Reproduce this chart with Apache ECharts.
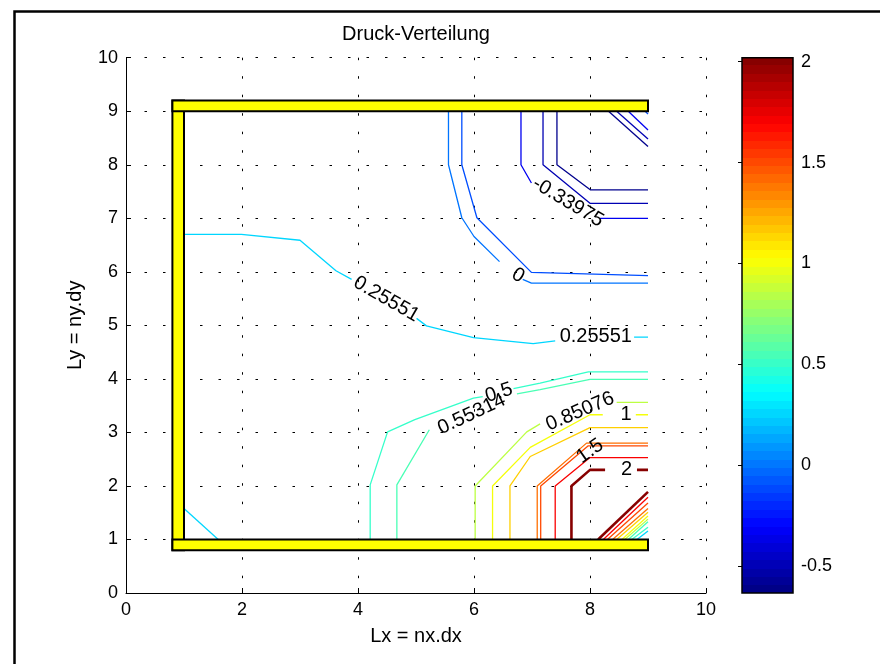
<!DOCTYPE html>
<html><head><meta charset="utf-8">
<script src="https://cdn.jsdelivr.net/npm/echarts@6/dist/echarts.min.js"></script>
<style>html,body{margin:0;padding:0;background:#fff}#c{width:880px;height:664px}</style>
</head><body><div id="c"></div>
<script>
// ---------- data ----------
const titleText = 'Druck-Verteilung';
const xName = 'Lx = nx.dx';
const yName = 'Ly = ny.dy';
const xTickValues = [0, 2, 4, 6, 8, 10];
const yTickValues = [0, 1, 2, 3, 4, 5, 6, 7, 8, 9, 10];
const colorbarTicks = [-0.5, 0, 0.5, 1, 1.5, 2];
const colorRange = [-0.634, 2.02];
// walls: [x1, y1, x2, y2]
const walls = [[0.8, 0.8, 1.0, 9.2], [0.8, 9.0, 9.0, 9.2], [0.8, 0.8, 9.0, 1.0]];
// contour levels for each path (same order as contourPaths)
const contourLevels = [
  -0.6, -0.6, -0.5, -0.5, -0.33975, -0.33975, -0.33975, -0.1, -0.1, 0, 0,
  0.25551, 0.25551, 0.25551, 0.25551, 0.25551,
  0.5, 0.5, 0.5, 0.55314, 0.55314, 0.55314,
  0.85076, 0.85076, 0.85076, 1, 1, 1, 1.15, 1.15,
  1.4, 1.4, 1.5, 1.5, 1.7, 1.7, 2, 2, 2
];
const contourPaths = [
  [[7.43, 9.0], [7.43, 8.0], [8.01, 7.53], [9.0, 7.53]],
  [[8.32, 9.0], [9.0, 8.34]],
  [[7.19, 9.0], [7.19, 8.0], [8.0, 7.28], [9.0, 7.28]],
  [[8.46, 9.0], [9.0, 8.48]],
  [[6.81, 9.0], [6.81, 8.0], [6.99, 7.66]],
  [[8.17, 7.0], [9.0, 7.0]],
  [[8.66, 9.0], [9.0, 8.65]],
  [[5.79, 9.0], [5.79, 8.0], [6.05, 7.01], [6.99, 5.99], [9.0, 5.93]],
  [[8.95, 9.0], [9.0, 8.95]],
  [[5.56, 9.0], [5.56, 8.0], [5.79, 7.01], [6.0, 6.66], [6.44, 6.19]],
  [[6.84, 5.86], [6.99, 5.79], [9.0, 5.79]],
  [[1.0, 6.70], [1.99, 6.70], [3.0, 6.59], [3.62, 6.02], [3.89, 5.86]],
  [[5.01, 5.13], [5.18, 4.99], [5.99, 4.77], [7.02, 4.66], [7.40, 4.71]],
  [[8.76, 4.78], [9.0, 4.78]],
  [[1.0, 1.58], [1.59, 1.0]],
  [[8.81, 1.0], [9.0, 1.16]],
  [[4.21, 1.0], [4.21, 2.02], [4.51, 3.01], [4.98, 3.24], [5.99, 3.64], [6.15, 3.67]],
  [[6.68, 3.82], [7.14, 3.92], [7.97, 4.13], [9.0, 4.13]],
  [[8.72, 1.0], [9.0, 1.23]],
  [[4.67, 1.0], [4.67, 2.02], [5.23, 3.05]],
  [[6.74, 3.72], [7.14, 3.80], [8.0, 3.99], [9.0, 3.99]],
  [[8.66, 1.0], [9.0, 1.33]],
  [[6.02, 1.0], [6.02, 2.0], [6.91, 3.01], [7.14, 3.16]],
  [[8.46, 3.56], [9.0, 3.56]],
  [[8.60, 1.0], [9.0, 1.38]],
  [[6.32, 1.0], [6.32, 2.0], [6.97, 2.72], [8.0, 3.33], [8.22, 3.33]],
  [[8.79, 3.33], [9.0, 3.33]],
  [[8.55, 1.0], [9.0, 1.44]],
  [[6.62, 1.0], [6.62, 2.0], [6.97, 2.55], [8.0, 3.09], [9.0, 3.09]],
  [[8.46, 1.0], [9.0, 1.51]],
  [[7.09, 1.0], [7.09, 2.0], [7.94, 2.80], [9.0, 2.80]],
  [[8.39, 1.0], [9.0, 1.58]],
  [[7.15, 1.0], [7.15, 2.0], [7.97, 2.75], [9.0, 2.75]],
  [[8.30, 1.0], [9.0, 1.68]],
  [[7.40, 1.0], [7.40, 2.0], [8.0, 2.53], [9.0, 2.53]],
  [[8.23, 1.0], [9.0, 1.79]],
  [[7.68, 1.0], [7.68, 2.0], [8.0, 2.30], [8.26, 2.30]],
  [[8.81, 2.30], [9.0, 2.30]],
  [[8.14, 1.0], [9.0, 1.89]]
];
// contour labels: [text, x, y]
const contourLabels = [
  ['-0.33975', 7.62, 7.30],
  ['0', 6.76, 5.93],
  ['0.25551', 4.49, 5.49],
  ['0.25551', 8.10, 4.80],
  ['0.5', 6.43, 3.74],
  ['0.55314', 5.96, 3.34],
  ['0.85076', 7.83, 3.39],
  ['1', 8.62, 3.33],
  ['1.5', 8.0, 2.65],
  ['2', 8.63, 2.30]
];
const contourLabelAngles = [-31, -30, -30, 0, 18, 25, 23, 0, 35, 0];

// ---------- style helpers ----------
const FONT = 'Liberation Sans';
const FS = 18;
const FS_BIG = 20;
function clamp(v) { return Math.max(0, Math.min(1, v)); }
function jetFrac(f) {
  const r = clamp(Math.min(4 * f - 1.5, -4 * f + 4.5));
  const g = clamp(Math.min(4 * f - 0.5, -4 * f + 3.5));
  const b = clamp(Math.min(4 * f + 0.5, -4 * f + 2.5));
  return 'rgb(' + Math.round(r * 255) + ',' + Math.round(g * 255) + ',' + Math.round(b * 255) + ')';
}
function jet(v) { return jetFrac(clamp((v - colorRange[0]) / (colorRange[1] - colorRange[0]))); }
const barStops = [];
for (let i = 0; i < 64; i++) {
  const c = jetFrac((i + 0.5) / 64);
  barStops.push({ offset: i / 64, color: c });
  barStops.push({ offset: (i + 1) / 64, color: c });
}

const series = [];
contourPaths.forEach(function (p, i) {
  const lv = contourLevels[i];
  series.push({
    type: 'line', xAxisIndex: 0, yAxisIndex: 0, data: p, symbol: 'none', silent: true,
    lineStyle: { color: jet(lv), width: lv === 2 ? 2.6 : 1.3 }, z: 2
  });
});
series.push({
  type: 'scatter', xAxisIndex: 0, yAxisIndex: 0, symbolSize: 0, silent: true, z: 4,
  data: contourLabels.map(function (l, i) {
    return { value: [l[1], l[2]], name: l[0], label: { rotate: contourLabelAngles[i] } };
  }),
  label: { show: true, position: 'inside', formatter: '{b}', color: '#000', opacity: 1,
    fontFamily: FONT, fontSize: 20, textBorderWidth: 0 }
});
series.push({
  type: 'custom', xAxisIndex: 0, yAxisIndex: 0, z: 6, silent: true,
  data: walls,
  encode: { x: [0, 2], y: [1, 3] },
  renderItem: function (params, api) {
    const p1 = api.coord([api.value(0), api.value(3)]);
    const p2 = api.coord([api.value(2), api.value(1)]);
    return { type: 'rect', shape: { x: p1[0], y: p1[1], width: p2[0] - p1[0], height: p2[1] - p1[1] },
      style: { fill: '#ffff00', stroke: '#000', lineWidth: 2 } };
  }
});
series.push({
  type: 'custom', xAxisIndex: 1, yAxisIndex: 1, z: 2, silent: true,
  data: [[0, colorRange[0], 1, colorRange[1]]],
  encode: { x: [0, 2], y: [1, 3] },
  renderItem: function (params, api) {
    const p1 = api.coord([api.value(0), api.value(3)]);
    const p2 = api.coord([api.value(2), api.value(1)]);
    return { type: 'rect', shape: { x: p1[0], y: p1[1], width: p2[0] - p1[0], height: p2[1] - p1[1] },
      style: { fill: new echarts.graphic.LinearGradient(0, 1, 0, 0, barStops), stroke: '#000', lineWidth: 1.5 } };
  }
});

const gridDash = { color: '#000', type: [2.5, 16], width: 1 };
const option = {
  animation: false,
  backgroundColor: '#fff',
  textStyle: { fontFamily: FONT },
  grid: [
    { left: 126, top: 57.7, right: 174, bottom: 71 },
    { left: 742, top: 57.7, width: 51, height: 535.3 }
  ],
  xAxis: [
    { type: 'value', gridIndex: 0, min: 0, max: 10, interval: 2,
      name: xName, nameLocation: 'middle', nameGap: 33,
      nameTextStyle: { color: '#000', fontFamily: FONT, fontSize: FS_BIG },
      axisLine: { show: true, lineStyle: { color: '#000', width: 1 } },
      axisTick: { show: true, inside: true, length: 5, lineStyle: { color: '#000' } },
      axisLabel: { color: '#000', fontFamily: FONT, fontSize: FS, margin: 8, showMinLabel: true, showMaxLabel: true },
      splitLine: { show: true, lineStyle: gridDash } },
    { type: 'value', gridIndex: 1, min: 0, max: 1, show: false }
  ],
  yAxis: [
    { type: 'value', gridIndex: 0, min: 0, max: 10, interval: 1,
      name: yName, nameLocation: 'middle', nameGap: 41,
      nameTextStyle: { color: '#000', fontFamily: FONT, fontSize: FS_BIG },
      axisLine: { show: true, lineStyle: { color: '#000', width: 1 } },
      axisTick: { show: true, inside: true, length: 5, lineStyle: { color: '#000' } },
      axisLabel: { color: '#000', fontFamily: FONT, fontSize: FS, margin: 8 },
      splitLine: { show: true, lineStyle: gridDash } },
    { type: 'value', gridIndex: 1, position: 'right', min: colorRange[0], max: colorRange[1],
      axisLine: { show: false },
      axisTick: { show: true, inside: true, length: 4, customValues: colorbarTicks, lineStyle: { color: '#000' } },
      axisLabel: { color: '#000', fontFamily: FONT, fontSize: FS, margin: 8, customValues: colorbarTicks },
      splitLine: { show: false } },
    { type: 'value', gridIndex: 1, position: 'left', min: colorRange[0], max: colorRange[1],
      axisLine: { show: false },
      axisTick: { show: true, inside: true, length: 4, customValues: colorbarTicks, lineStyle: { color: '#000' } },
      axisLabel: { show: false },
      splitLine: { show: false } }
  ],
  graphic: [
    { type: 'rect', left: 12, top: 9, shape: { width: 900, height: 700 }, style: { fill: 'none', stroke: '#000', lineWidth: 2.5 }, silent: true },
    { type: 'text', x: 416, y: 34, style: { text: titleText, fill: '#000', font: FS_BIG + 'px "' + FONT + '"', textAlign: 'center', textVerticalAlign: 'middle' } }
  ],
  series: series
};
const chart = echarts.init(document.getElementById('c'), null, { renderer: 'canvas' });
chart.setOption(option);
</script>
</body></html>
